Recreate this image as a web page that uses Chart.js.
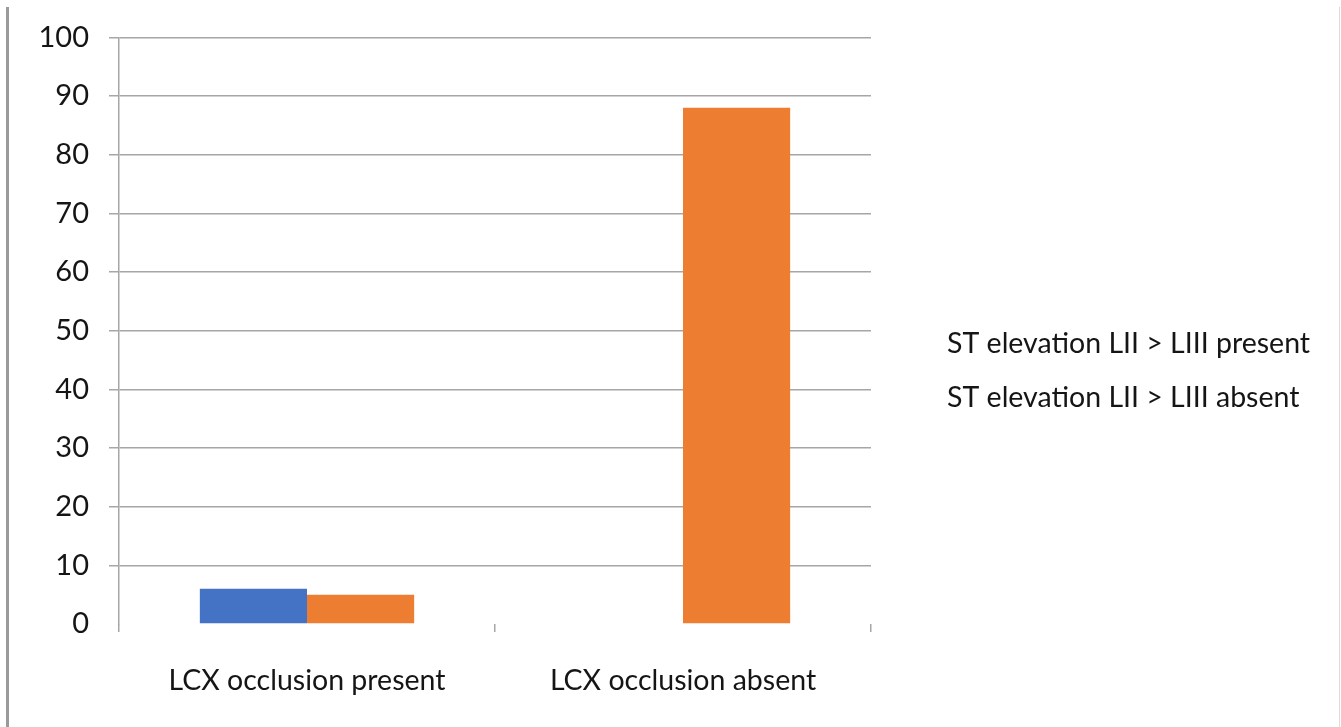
<!DOCTYPE html>
<html>
<head>
<meta charset="utf-8">
<script src="https://cdn.jsdelivr.net/npm/chart.js@4"></script>
<style>
  html, body { margin: 0; padding: 0; background: #ffffff; }
  #wrap { position: relative; width: 1341px; height: 727px; }
  #chart { position: absolute; left: 0; top: 0; }
  .edge-left { position: absolute; left: 6px; top: 7px; width: 3px; height: 720px; background: #9a9a9a; }
  .edge-right { position: absolute; left: 1339px; top: 7px; width: 1px; height: 720px; background: #dcdcdc; }
</style>
</head>
<body>
<div id="wrap">
  <canvas id="chart" width="1341" height="727"></canvas>
  <div class="edge-left"></div>
  <div class="edge-right"></div>
</div>
<script>
// Categories along the x axis
const categories = ['LCX occlusion present', 'LCX occlusion absent'];

// Series names
const seriesNames = ['ST elevation LII > LIII present', 'ST elevation LII > LIII absent'];

// Series values (percent)
const stPresent = [6, 0];
const stAbsent = [5, 88];

// Y axis range
const yMin = 0;
const yMax = 100;
const yStep = 10;

const FONT = 'Lato, "Open Sans", sans-serif';
const TEXT = '#151515';
const GRID = '#a6a6a6';

// Legend drawn as plain text lines to the right of the plot
const textLegend = {
  id: 'textLegend',
  afterDraw(chart) {
    const { ctx, chartArea } = chart;
    ctx.save();
    ctx.font = '28.5px ' + FONT;
    ctx.fillStyle = TEXT;
    ctx.textAlign = 'left';
    ctx.textBaseline = 'middle';
    chart.data.datasets.forEach((ds, i) => {
      ctx.fillText(ds.label, chartArea.right + 76, chartArea.top + 306 + i * 54);
    });
    ctx.restore();
  }
};

new Chart(document.getElementById('chart'), {
  type: 'bar',
  data: {
    labels: categories,
    datasets: [
      { label: seriesNames[0], data: stPresent, backgroundColor: '#4472C4', borderWidth: 0 },
      { label: seriesNames[1], data: stAbsent, backgroundColor: '#ED7D31', borderWidth: 0 }
    ]
  },
  options: {
    responsive: false,
    animation: false,
    layout: { padding: { top: 35, right: 470, bottom: 0, left: 0 } },
    datasets: { bar: { categoryPercentage: 0.57, barPercentage: 1.0 } },
    plugins: {
      legend: { display: false },
      tooltip: { enabled: false }
    },
    scales: {
      x: {
        grid: {
          offset: true,
          drawOnChartArea: false,
          drawTicks: true,
          tickLength: 8,
          color: GRID,
          lineWidth: 1.5
        },
        border: { display: false },
        ticks: {
          font: { family: FONT, size: 28.5 },
          color: TEXT,
          padding: 32,
          maxRotation: 0
        },
        afterFit(scale) { scale.height = 103; }
      },
      y: {
        min: yMin,
        max: yMax,
        grid: {
          color: (c) => (c.tick && c.tick.value === 0 ? 'rgba(0,0,0,0)' : GRID),
          lineWidth: 1.5,
          tickLength: 10
        },
        border: { display: true, color: GRID, width: 1.5 },
        ticks: {
          stepSize: yStep,
          font: { family: FONT, size: 29 },
          color: TEXT,
          padding: 20
        },
        afterFit(scale) { scale.width = 119; }
      }
    }
  },
  plugins: [textLegend]
});
</script>
</body>
</html>
